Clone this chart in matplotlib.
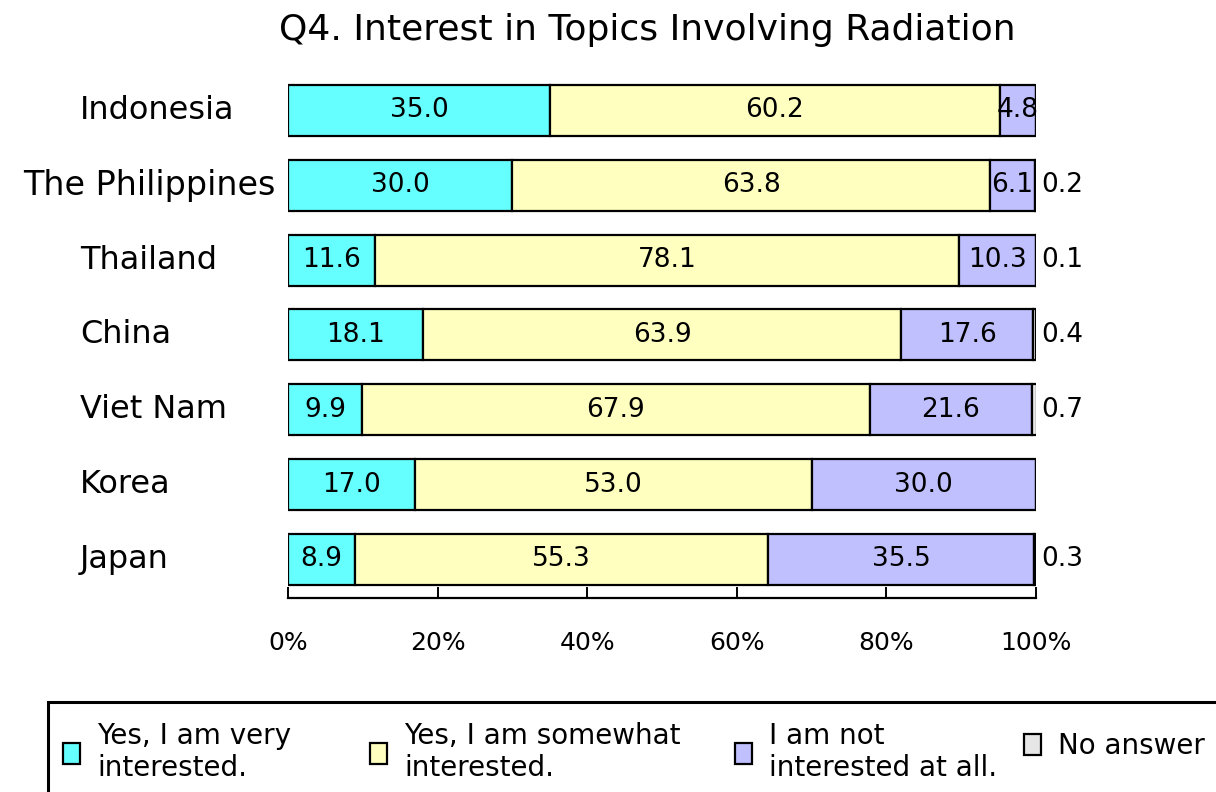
"""
Stacked horizontal bars: Q4. Interest in Topics Involving Radiation.
"""
import matplotlib
matplotlib.use('Agg')
import matplotlib.pyplot as plt
from matplotlib.patches import Rectangle
import numpy as np

# countries listed top to bottom
countries = ['Indonesia', 'The Philippines', 'Thailand', 'China',
             'Viet Nam', 'Korea', 'Japan']
very = [35.0, 30.0, 11.6, 18.1, 9.9, 17.0, 8.9]
somewhat = [60.2, 63.8, 78.1, 63.9, 67.9, 53.0, 55.3]
not_at_all = [4.8, 6.1, 10.3, 17.6, 21.6, 30.0, 35.5]
no_answer = [0.0, 0.2, 0.1, 0.4, 0.7, 0.0, 0.3]

series_names = ['Yes, I am very\ninterested.', 'Yes, I am somewhat\ninterested.',
                'I am not\ninterested at all.', 'No answer']
colors = ['#66FFFF', '#FFFFC0', '#C0C0FF', '#E6E6E6']
x_ticks = [0, 20, 40, 60, 80, 100]


def plot_chart():
    fig = plt.figure(figsize=(12.16, 7.92), dpi=100)
    ax = fig.add_axes([288 / 1216, 194 / 792, 748 / 1216, 525 / 792])

    # Japan at the bottom
    y = np.arange(len(countries))[::-1]
    left = np.zeros(len(countries))
    handles = []
    for k, vals in enumerate([very, somewhat, not_at_all, no_answer]):
        vals = np.array(vals)
        bars = ax.barh(y, vals, left=left, height=0.68, color=colors[k],
                       edgecolor='black', linewidth=1.6)
        handles.append(bars)
        for yi, l, v in zip(y, left, vals):
            if k < 3:
                ax.text(l + v / 2, yi, '%.1f' % v, ha='center', va='center',
                        fontsize=19)
            elif v > 0:
                ax.annotate('%.1f' % v, xy=(min(l + v, 100), yi),
                            xytext=(4, 0), textcoords='offset points',
                            ha='left', va='center', fontsize=19,
                            annotation_clip=False)
        left = left + vals

    ax.set_xlim(0, 100)
    ax.set_ylim(-0.515, 6.5)
    ax.set_xticks(x_ticks)
    ax.set_xticklabels(['%d%%' % t for t in x_ticks], fontsize=18)
    ax.tick_params(axis='x', direction='in', length=8, width=1.4, pad=24)
    ax.set_yticks([])
    for side in ['top', 'right', 'left']:
        ax.spines[side].set_visible(False)
    ax.spines['bottom'].set_linewidth(1.6)

    # country labels, left aligned unless too long
    for yi, name in zip(y, countries):
        if len(name) > 12:
            ax.text(-0.017, yi, name, transform=ax.get_yaxis_transform(),
                    ha='right', va='center', fontsize=24)
        else:
            ax.text(-0.278, yi, name, transform=ax.get_yaxis_transform(),
                    ha='left', va='center', fontsize=23)

    fig.text(0.532, 0.962, 'Q4. Interest in Topics Involving Radiation',
             ha='center', va='center', fontsize=26)

    # legend, box runs off the figure edge
    fig.patches.append(Rectangle((48 / 1216, -0.1), 1.0, 0.1 + 90 / 792,
                                 transform=fig.transFigure, fill=False,
                                 edgecolor='black', linewidth=2.2))
    legend_x = [63, 370, 735, 1024]
    legend_y = [40, 40, 40, 46]
    for h, name, lx, ly in zip(handles, series_names, legend_x, legend_y):
        leg = fig.legend([h[0]], [name], loc='center left',
                         bbox_to_anchor=(lx / 1216, ly / 792), frameon=False,
                         fontsize=20, handlelength=0.6, handleheight=0.8,
                         handletextpad=0.62, borderpad=0, borderaxespad=0)
        for t in leg.get_texts():
            t.set_linespacing(1.15)

    fig.savefig('out.png', dpi=100)


if __name__ == "__main__":
    plot_chart()
